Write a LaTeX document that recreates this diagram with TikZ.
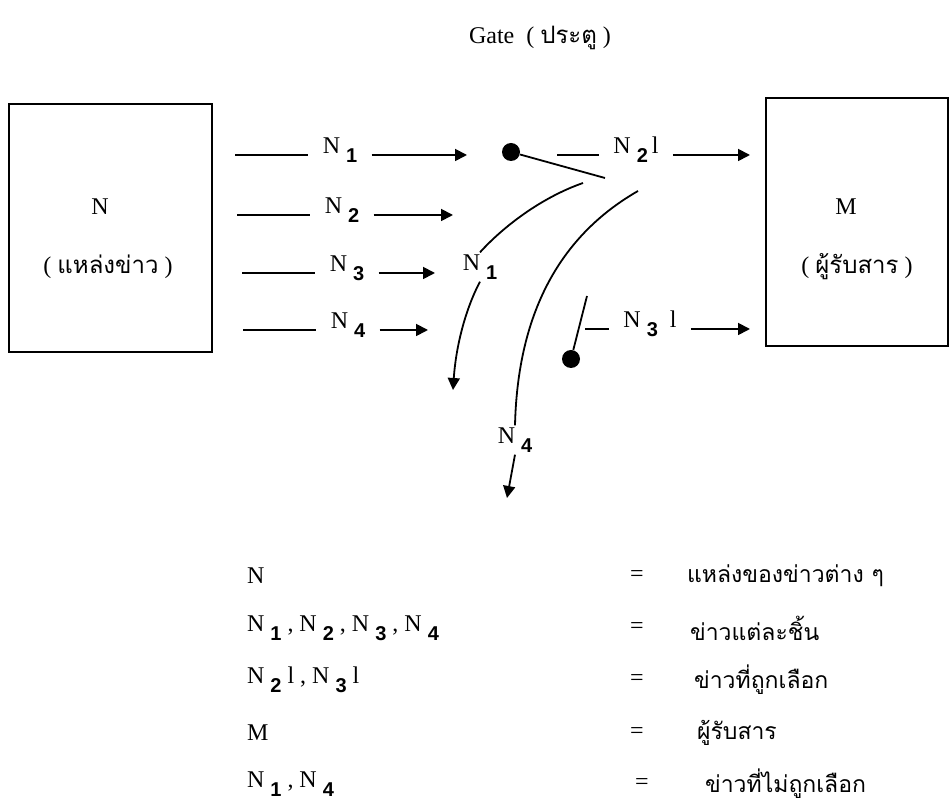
\documentclass[tikz,border=0pt]{standalone}
\usepackage{fontspec}
\setmainfont{Liberation Serif}
\setsansfont{Liberation Sans}
\newfontfamily\thaifont[Script=Thai]{Loma}
\usepackage{tikz}
\usetikzlibrary{arrows.meta,positioning}
\tikzset{
  ar/.style={-{Triangle[length=6pt,width=6pt]},line width=0.9pt},
  ln/.style={line width=0.9pt},
  lab/.style={inner xsep=7pt,inner ysep=1pt},
  thai/.style={font=\fontsize{11.5}{14}\selectfont\thaifont},
  dot/.style={circle,fill,inner sep=0pt,minimum size=9pt},
  frame/.style={draw,line width=0.9pt,inner sep=0pt}
}
\newcommand{\Nsub}[1]{N\kern3pt\raisebox{-0.8ex}{\sffamily\fontsize{10}{12}\selectfont\bfseries #1}}
\newcommand{\tht}[1]{{\thaifont #1}}

\begin{document}
\begin{tikzpicture}[x=0.5pt,y=-0.5pt,font=\fontsize{12}{14}\selectfont]
\useasboundingbox (0,0) rectangle (950,802);
% title
\node (title) at (540,38) {Gate \ ( \tht{ประตู} )};
% source and receiver
\node[frame,minimum width=101.5pt,minimum height=124pt] (src) at (110.5,228) {};
\node (srcN) at (100,207) {N};
\node (srcT) at (108,267) {( \tht{แหล่งข่าว} )};
\node[frame,minimum width=91pt,minimum height=124pt] (dst) at (857,222) {};
\node (dstM) at (846,207) {M};
\node (dstT) at (857,267) {( \tht{ผู้รับสาร} )};
% incoming news
\foreach \i/\y/\xs/\xl/\xe in {1/155/235/340/467, 2/215/237/342/453, 3/273/242/347/435, 4/330/243/348/428}{
  \node[lab] (in\i) at (\xl,{\y-5}) {\Nsub{\i}};
  \coordinate (ins\i) at (\xs,\y);
  \coordinate (ine\i) at (\xe,\y);
  \draw[ln] (ins\i) -- (ins\i -| in\i.west);
  \draw[ar] (ins\i -| in\i.east) -- (ine\i);
}
% gate
\node[dot] (gtop) at (511,152) {};
\coordinate (gtopend) at (605,178);
\draw[ln] (gtop) -- (gtopend);
\node[dot] (gbot) at (571,359) {};
\coordinate (gbotend) at (587,296);
\draw[ln] (gbot) -- (gbotend);
% selected news
\node[lab] (out2) at (636,150) {\Nsub{2}\,l};
\coordinate (outs2) at (557,155); \coordinate (oute2) at (750,155);
\draw[ln] (outs2) -- (outs2 -| out2.west);
\draw[ar] (outs2 -| out2.east) -- (oute2);
\node[lab] (out3) at (650,324) {\Nsub{3}\ \ l};
\coordinate (outs3) at (585,329); \coordinate (oute3) at (750,329);
\draw[ln] (outs3) -- (outs3 -| out3.west);
\draw[ar] (outs3 -| out3.east) -- (oute3);
% rejected news
\node[inner sep=1pt] (rej1) at (480,267) {\Nsub{1}};
\coordinate (c1a) at (583,183);
\coordinate (c1b) at (453,390);
\draw[ln] (c1a) .. controls (540,198) and (502,228) .. (rej1.north);
\draw[ar] (rej1.south) .. controls (466,308) and (456,345) .. (c1b);
\node[inner sep=1pt] (rej4) at (515,440) {\Nsub{4}};
\coordinate (c4a) at (638,191);
\coordinate (c4b) at (507,498);
\draw[ln] (c4a) .. controls (570,230) and (518,300) .. (rej4.north);
\draw[ar] (rej4.south) -- (c4b);
% legend
\foreach \y/\lhs/\ex/\rhs/\xr in {576/{N}/637/{แหล่งของข่าวต่าง ๆ}/680,
    628/{\Nsub{1} , \Nsub{2} , \Nsub{3} , \Nsub{4}}/637/{ข่าวแต่ละชิ้น}/683,
    680/{\Nsub{2} l , \Nsub{3} l}/637/{ข่าวที่ถูกเลือก}/687,
    733/{M}/637/{ผู้รับสาร}/690,
    784/{\Nsub{1} , \Nsub{4}}/642/{ข่าวที่ไม่ถูกเลือก}/698}{
  \node[anchor=west] (key\y) at (240,\y) {\lhs};
  \node (eq\y) at (\ex,\y) {=};
  \node[thai,anchor=west] (val\y) at (\xr,\y) {\rhs};
}
\end{tikzpicture}
\end{document}
